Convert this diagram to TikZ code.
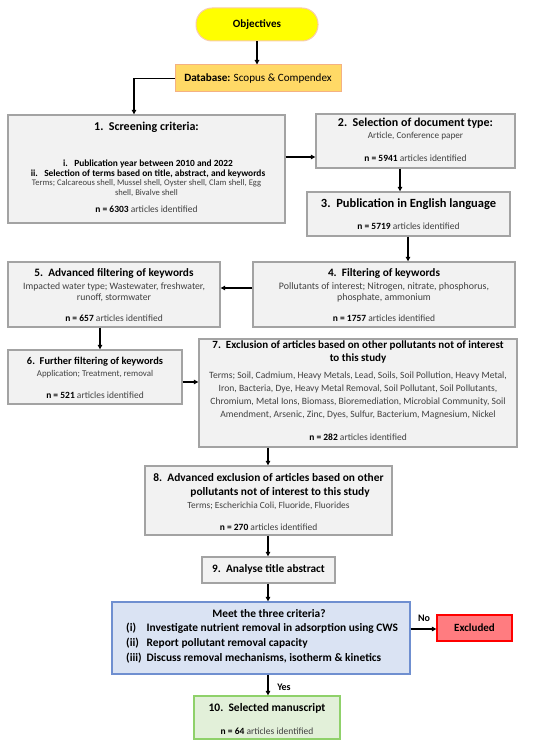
\documentclass[tikz,border=0pt]{standalone}
\usepackage{fontspec}
\setmainfont{Carlito}
\usetikzlibrary{arrows.meta}
\definecolor{boxgray}{HTML}{A3A3A3}
\definecolor{boxfill}{HTML}{F2F2F2}
\definecolor{txtgray}{HTML}{404040}
\definecolor{objfill}{HTML}{FFFF00}
\definecolor{objline}{HTML}{F8CBAD}
\definecolor{dbfill}{HTML}{FFD966}
\definecolor{dbline}{HTML}{F4B183}
\definecolor{critfill}{HTML}{DAE3F3}
\definecolor{critline}{HTML}{6F8FD0}
\definecolor{excfill}{HTML}{FF7C80}
\definecolor{excline}{HTML}{FF0000}
\definecolor{selfill}{HTML}{E2F0D9}
\definecolor{selline}{HTML}{8FD16A}
\newcommand\nbold[1]{{\color{black}\bfseries n = #1}}
\begin{document}
\begin{tikzpicture}[x=1pt,y=-1pt,
  frame/.style={draw=boxgray, fill=boxfill, line width=1.4pt, inner sep=0pt},
  ttl/.style={font=\fontsize{#1}{#1}\selectfont\bfseries, text=black, inner sep=0pt},
  ttlm/.style 2 args={font=\fontsize{#1}{#2}\selectfont\bfseries, text=black, inner sep=0pt, align=center},
  bod/.style 2 args={font=\fontsize{#1}{#2}\selectfont, text=txtgray, inner sep=0pt, align=center},
  bodb/.style 2 args={font=\fontsize{#1}{#2}\selectfont\bfseries, text=black, inner sep=0pt, align=center},
  nl/.style={font=\fontsize{#1}{#1}\selectfont, text=txtgray, inner sep=0pt},
  arr/.style={-{Triangle[length=4.5pt,width=4.5pt]}, line width=1.1pt, black},
  lbl/.style={font=\fontsize{10}{12}\selectfont\bfseries, text=black, inner sep=0pt}]
\useasboundingbox (0,0) rectangle (550,746);
% ---------- top
\node[draw=objline, fill=objfill, line width=1pt, rounded corners=16pt,
  minimum width=122pt, minimum height=33pt, font=\fontsize{11.1}{12}\selectfont\bfseries]
  (obj) at (257,24.5) {Objectives};
\node[draw=dbline, fill=dbfill, line width=1pt, minimum width=166pt, minimum height=27pt,
  font=\fontsize{11.1}{12}\selectfont] (db) at (258,78.5) {\textbf{Database:} Scopus \& Compendex};
% ---------- box 1
\node[frame, minimum width=277pt, minimum height=108pt] (b1) at (146.5,169) {};
\node[ttl=12] (b1t) at (146.5,127) {1.~~Screening criteria:};
\node[bodb={9.4}{9.6}] (b1i) at (148,168.8) {i.~~~Publication year between 2010 and 2022\\
  ii.~~~Selection of terms based on title, abstract, and keywords};
\node[bod={8.6}{9.6}] (b1s) at (146.5,187.8) {Terms; Calcareous shell, Mussel shell, Oyster shell, Clam shell, Egg\\
  shell, Bivalve shell};
\node[nl=9.5] (b1n) at (146.5,209) {\nbold{6303} articles identified};
% ---------- box 2
\node[frame, minimum width=199pt, minimum height=54pt] (b2) at (415.5,141) {};
\node[ttl=12] (b2t) at (415.5,123) {2.~~Selection of document type:};
\node[nl=9.2] (b2s) at (415.5,136) {Article, Conference paper};
\node[nl=9.5] (b2n) at (415.5,158) {\nbold{5941} articles identified};
% ---------- box 3
\node[frame, minimum width=203pt, minimum height=44pt] (b3) at (408.5,214) {};
\node[ttl=12.5] (b3t) at (408.5,204) {3.~~Publication in English language};
\node[nl=9.5] (b3n) at (408.5,226) {\nbold{5719} articles identified};
% ---------- box 4
\node[frame, minimum width=262pt, minimum height=65pt] (b4) at (384,294.5) {};
\node[ttl=11.3] (b4t) at (384,273) {4.~~Filtering of keywords};
\node[bod={9.9}{10.5}] (b4s) at (384,292.5) {Pollutants of interest; Nitrogen, nitrate, phosphorus,\\
  phosphate, ammonium};
\node[nl=9.5] (b4n) at (384,318) {\nbold{1757} articles identified};
% ---------- box 5
\node[frame, minimum width=212pt, minimum height=65pt] (b5) at (114,294.5) {};
\node[ttl=11.3] (b5t) at (114,273) {5.~~Advanced filtering of keywords};
\node[bod={9.7}{10.5}] (b5s) at (114,292.5) {Impacted water type; Wastewater, freshwater,\\
  runoff, stormwater};
\node[nl=9.5] (b5n) at (114,318) {\nbold{657} articles identified};
% ---------- box 6
\node[frame, minimum width=174pt, minimum height=54pt] (b6) at (95,377) {};
\node[ttl=10.4] (b6t) at (95,362) {6.~~Further filtering of keywords};
\node[nl=8.9] (b6s) at (95,374) {Application; Treatment, removal};
\node[nl=9.5] (b6n) at (95,395.5) {\nbold{521} articles identified};
% ---------- box 7
\node[frame, minimum width=318pt, minimum height=108pt] (b7) at (358,393) {};
\node[ttlm={11}{12.5}] (b7t) at (358,352) {7.~~Exclusion of articles based on other pollutants not of interest\\
  to this study};
\node[bod={9.6}{13}] (b7s) at (358,395.5) {Terms; Soil, Cadmium, Heavy Metals, Lead, Soils, Soil Pollution, Heavy Metal,\\
  Iron, Bacteria, Dye, Heavy Metal Removal, Soil Pollutant, Soil Pollutants,\\
  Chromium, Metal Ions, Biomass, Bioremediation, Microbial Community, Soil\\
  Amendment, Arsenic, Zinc, Dyes, Sulfur, Bacterium, Magnesium, Nickel};
\node[nl=9.5] (b7n) at (358,437.5) {\nbold{282} articles identified};
% ---------- box 8
\node[frame, minimum width=247pt, minimum height=69pt] (b8) at (268.5,500.5) {};
\node[ttl=11.4] (b8t) at (268.5,478) {8.~~Advanced exclusion of articles based on other};
\node[ttl=11.4] (b8u) at (280,492) {pollutants not of interest to this study};
\node[nl=9.4] (b8s) at (268.5,505.5) {Terms; Escherichia Coli, Fluoride, Fluorides};
\node[nl=9.5] (b8n) at (268.5,527.5) {\nbold{270} articles identified};
% ---------- box 9
\node[frame, minimum width=133pt, minimum height=26pt] (b9) at (268.5,570) {};
\node[ttl=11.3] (b9t) at (268.5,569) {9.~~Analyse title abstract};
% ---------- criteria
\node[draw=critline, fill=critfill, line width=1.3pt, minimum width=298pt, minimum height=72pt] (crit) at (261,638) {};
\node[ttl=11.4] (critt) at (269,613.5) {Meet the three criteria?};
\node[ttl=11.4, anchor=west] (c1a) at (126,628.5) {(i)};
\node[ttl=11.4, anchor=west] (c1b) at (146.5,628.5) {Investigate nutrient removal in adsorption using CWS};
\node[ttl=11.4, anchor=west] (c2a) at (126,643) {(ii)};
\node[ttl=11.4, anchor=west] (c2b) at (146.5,643) {Report pollutant removal capacity};
\node[ttl=11.4, anchor=west] (c3a) at (126,658) {(iii)};
\node[ttl=11.4, anchor=west] (c3b) at (146.5,658) {Discuss removal mechanisms, isotherm \& kinetics};
% ---------- excluded
\node[draw=excline, fill=excfill, line width=1.3pt, minimum width=75pt, minimum height=26pt,
  font=\fontsize{11}{12}\selectfont\bfseries] (exc) at (474.5,628) {Excluded};
% ---------- box 10
\node[draw=selline, fill=selfill, line width=1.3pt, minimum width=146pt, minimum height=43pt] (b10) at (267,717.5) {};
\node[ttl=11.5] (b10t) at (267,708) {10.~~Selected manuscript};
\node[nl=9.5] (b10n) at (267,731.5) {\nbold{64} articles identified};
% ---------- connectors
\draw[arr] (obj.south) -- (obj.south |- db.north);
\draw[arr] (db.west) -| (134,0 |- b1.north);
\draw[arr] (b1.east |- 0,157) -- (b2.west |- 0,157);
\draw[arr] (b2.south -| 400,0) -- (b3.north -| 400,0);
\draw[arr] (b3.south -| 408,0) -- (b4.north -| 408,0);
\draw[arr] (b4.west |- 0,288) -- (b5.east |- 0,288);
\draw[arr] (b5.south -| 100,0) -- (b6.north -| 100,0);
\draw[arr] (b6.east |- 0,382) -- (b7.west |- 0,382);
\draw[arr] (b7.south -| 268,0) -- (b8.north -| 268,0);
\draw[arr] (b8.south -| 268,0) -- (b9.north -| 268,0);
\draw[arr] (b9.south -| 268,0) -- (crit.north -| 268,0);
\draw[arr] (crit.east |- 0,629) -- (exc.west |- 0,629);
\draw[arr] (crit.south -| 268,0) -- (b10.north -| 268,0);
\node[lbl] (no) at (424,618.5) {No};
\node[lbl] (yes) at (284,687) {Yes};
\end{tikzpicture}
\end{document}
